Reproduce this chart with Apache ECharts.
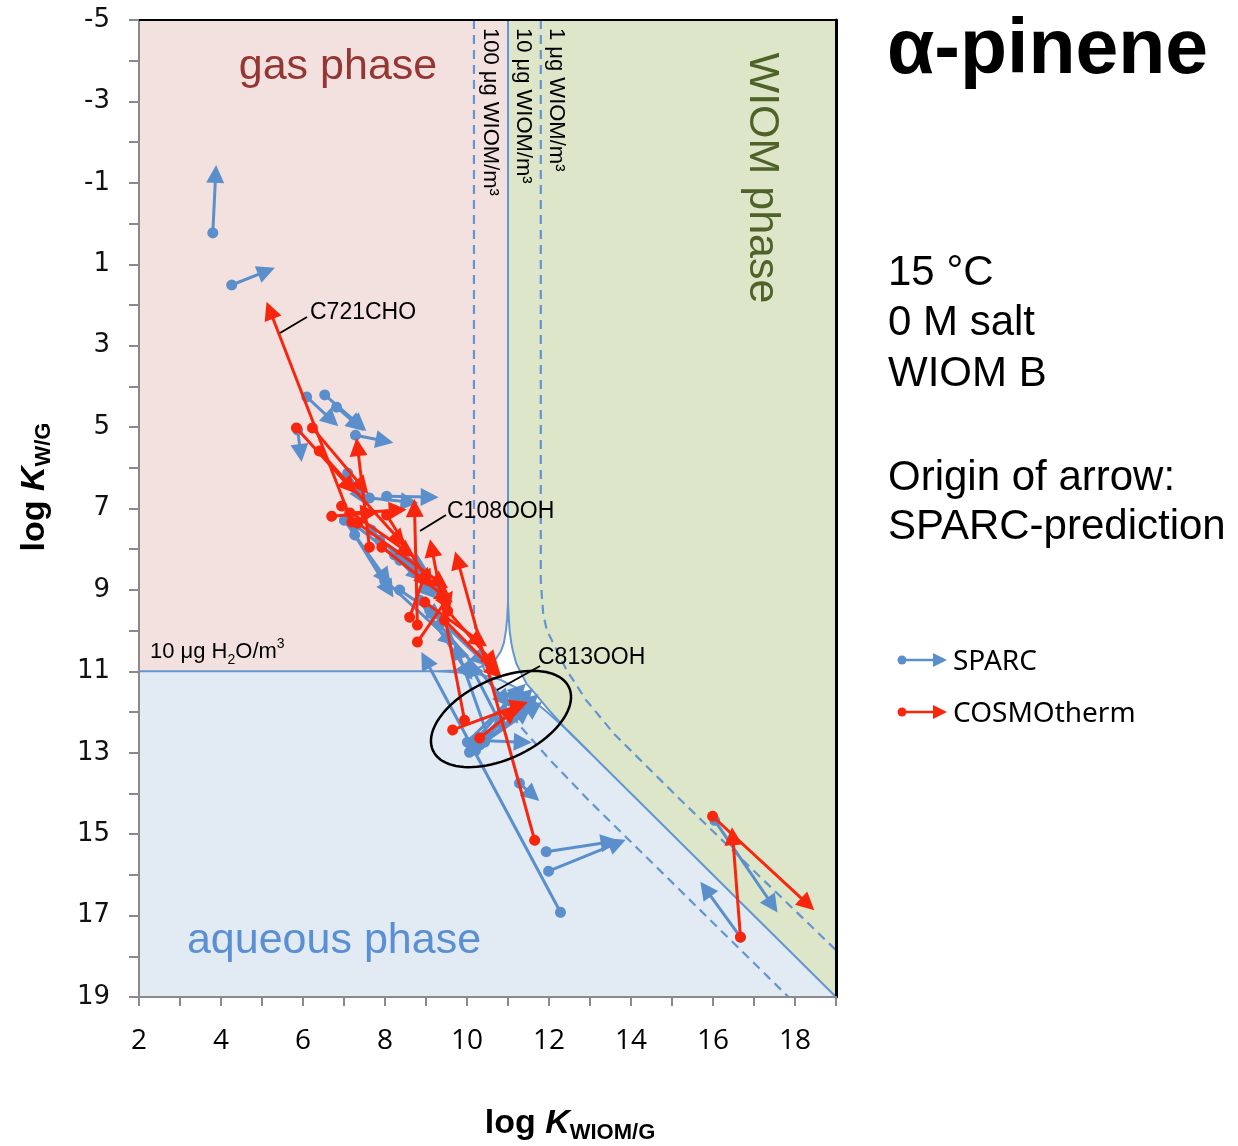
<!DOCTYPE html>
<html>
<head>
<meta charset="utf-8">
<script src="https://cdn.jsdelivr.net/npm/echarts@6/dist/echarts.min.js"></script>
<style>
html, body { margin: 0; padding: 0; background: #fff; }
#chart { width: 1238px; height: 1146px; }
</style>
</head>
<body>
<div id="chart"></div>
<script>
// axis extents (log K_WIOM/G on x, log K_W/G on y, inverted)
const xRange = [2, 19];
const yRange = [-5, 19];
const xTickLabels = [2, 4, 6, 8, 10, 12, 14, 16, 18];
const yTickLabels = [-5, -3, -1, 1, 3, 5, 7, 9, 11, 13, 15, 17, 19];

// phase regions
const gasRegion = [[2, -5], [11, -5], [11, 9.3], [10.98, 9.7], [10.95, 10], [10.9, 10.3], [10.83, 10.5],
  [10.7, 10.7], [10.5, 10.83], [10.3, 10.9], [10, 10.95], [9.7, 10.98], [9.3, 11], [2, 11]];
const wiomRegion = [[11, -5], [19, -5], [19, 19], [13, 13], [12.5, 12.51], [12.04, 12], [11.62, 11.5],
  [11.45, 11.3], [11.3, 11], [11.2, 10.8], [11.12, 10.5], [11.08, 10.3], [11.04, 10], [11.02, 9.7], [11, 9.3]];
const waterRegion = [[2, 11], [9.3, 11], [10, 11.04], [10.3, 11.08], [10.5, 11.12], [10.8, 11.2], [11, 11.3],
  [11.3, 11.45], [11.5, 11.62], [12, 12.04], [12.51, 12.5], [13, 13], [19, 19], [2, 19]];

// 50 % boundaries for 10 ug WIOM/m3 (solid)
const gasLine = [[2, 11], [9.3, 11], [9.7, 10.98], [10, 10.95], [10.3, 10.9], [10.5, 10.83], [10.7, 10.7],
  [10.83, 10.5], [10.9, 10.3], [10.95, 10], [10.98, 9.7], [11, 9.3], [11, -5]];
const wiomLine = [[11, 9.3], [11.02, 9.7], [11.04, 10], [11.08, 10.3], [11.12, 10.5], [11.2, 10.8], [11.3, 11],
  [11.45, 11.3], [11.62, 11.5], [12.04, 12], [12.5, 12.51], [13, 13], [19, 19]];
const waterLine = [[9.3, 11], [10, 11.04], [10.3, 11.08], [10.5, 11.12], [10.8, 11.2], [11, 11.3],
  [11.3, 11.45], [11.5, 11.62], [12, 12.04], [12.51, 12.5], [13, 13]];
// 100 ug and 1 ug WIOM/m3 (dashed)
const wiom100Line = [[10.17, -5], [10.17, 9.6], [10.22, 10.2], [10.32, 10.7], [10.5, 11.15], [10.8, 11.7],
  [11.3, 12.35], [12, 13.15], [13, 14.2], [17.84, 19]];
const wiom1Line = [[11.8, -5], [11.8, 8.8], [11.86, 9.6], [11.95, 10], [12.15, 10.4], [12.42, 10.95],
  [12.9, 11.7], [13.6, 12.55], [15.2, 14.15], [19, 17.85]];

// arrows: [x0, y0, x1, y1] origin (dot) -> head
const sparcArrows = [
  [3.80, 0.23, 3.87, -1.22],
  [4.26, 1.51, 5.11, 1.17],
  [6.09, 4.26, 6.70, 4.83],
  [6.53, 4.21, 7.38, 4.95],
  [6.82, 4.51, 7.32, 4.95],
  [7.28, 5.20, 7.99, 5.34],
  [5.87, 5.07, 5.94, 5.64],
  [7.09, 6.13, 7.43, 6.72],
  [7.62, 6.74, 8.60, 6.84],
  [8.04, 6.70, 9.09, 6.72],
  [8.36, 8.27, 7.21, 7.36],
  [7.01, 7.29, 8.01, 8.71],
  [7.26, 7.65, 8.09, 9.00],
  [7.87, 7.78, 8.84, 8.39],
  [7.67, 7.53, 8.80, 8.64],
  [8.23, 8.14, 9.09, 9.05],
  [8.48, 8.27, 9.33, 9.05],
  [10.50, 12.57, 9.77, 10.48],
  [10.80, 12.25, 10.11, 10.90],
  [9.09, 9.50, 10.36, 10.72],
  [8.84, 9.25, 10.01, 11.02],
  [9.33, 9.86, 10.92, 11.71],
  [7.99, 8.76, 9.58, 10.23],
  [8.36, 9.00, 9.26, 9.62],
  [12.28, 16.92, 8.99, 10.72],
  [11.93, 15.43, 13.48, 15.19],
  [11.99, 15.91, 13.67, 15.22],
  [11.28, 13.75, 11.60, 14.04],
  [10.01, 12.74, 11.28, 11.46],
  [10.11, 12.86, 11.45, 11.58],
  [10.21, 12.94, 11.58, 11.71],
  [10.31, 12.81, 11.28, 11.78],
  [10.06, 12.99, 11.65, 11.88],
  [10.43, 12.74, 11.40, 12.00],
  [10.19, 12.69, 11.36, 12.74],
  [10.26, 12.64, 11.21, 11.53],
  [16.04, 14.66, 17.45, 16.74],
  [16.67, 17.53, 15.82, 16.35]
];
const cosmoArrows = [
  [7.19, 7.33, 5.19, 2.13],
  [5.84, 5.02, 7.14, 6.47],
  [6.23, 5.02, 7.45, 6.47],
  [6.40, 5.59, 8.36, 7.78],
  [6.70, 7.19, 7.62, 7.11],
  [6.94, 6.94, 8.55, 8.07],
  [7.62, 7.95, 7.33, 5.49],
  [7.92, 7.95, 9.48, 9.18],
  [8.04, 7.16, 9.04, 8.76],
  [7.14, 7.11, 8.31, 7.04],
  [8.79, 10.28, 9.53, 9.20],
  [8.60, 9.67, 8.97, 8.64],
  [8.79, 9.86, 8.72, 6.99],
  [9.53, 9.52, 10.62, 10.77],
  [8.97, 9.30, 10.31, 10.26],
  [9.45, 9.74, 10.70, 11.02],
  [9.94, 12.20, 9.14, 7.97],
  [11.65, 15.15, 9.77, 8.27],
  [9.65, 12.44, 11.28, 11.83],
  [10.31, 12.64, 11.09, 12.00],
  [7.33, 7.36, 9.36, 8.83],
  [15.99, 14.56, 18.31, 16.72],
  [16.67, 17.53, 16.48, 15.05]
];

const blue = '#5B8FCB';
const red = '#F9260E';
const lineBlue = '#6396D0';
const font = 'Liberation Sans, Arial, sans-serif';

function regionSeries(pts, color) {
  return {
    type: 'custom',
    coordinateSystem: 'cartesian2d',
    silent: true,
    z: 1,
    data: [pts[0]],
    renderItem: (params, api) => ({
      type: 'polygon',
      shape: { points: pts.map(p => api.coord(p)) },
      style: { fill: color }
    })
  };
}

function boundary(pts, dashed) {
  return {
    type: 'line',
    data: pts,
    showSymbol: false,
    silent: true,
    z: 2,
    lineStyle: { color: lineBlue, width: dashed ? 2.2 : 2, type: dashed ? [9, 6] : 'solid' }
  };
}

function arrowSeries(name, arr, color, z) {
  return {
    name: name,
    type: 'lines',
    coordinateSystem: 'cartesian2d',
    z: z,
    symbol: ['circle', 'triangle'],
    symbolSize: [11, 18],
    itemStyle: { color: color },
    lineStyle: { color: color, width: 3, opacity: 1, curveness: 0 },
    data: arr.map(a => ({ coords: [[a[0], a[1]], [a[2], a[3]]] }))
  };
}

// ellipse round the C813OOH group
const ell = [];
const rot = -25 * Math.PI / 180;
for (let i = 0; i < 90; i++) {
  const t = i / 90 * 2 * Math.PI;
  const c = Math.cos(t), s = Math.sin(t);
  ell.push([501 + 75 * c * Math.cos(rot) - 40 * s * Math.sin(rot),
            719 + 75 * c * Math.sin(rot) + 40 * s * Math.cos(rot)]);
}

function txt(x, y, text, opts) {
  const st = Object.assign({
    text: text, fill: '#000', font: '42px ' + font,
    align: 'left', verticalAlign: 'middle', textAlign: 'left', textVerticalAlign: 'middle'
  }, opts && opts.style);
  return { type: 'text', x: x, y: y, z: 100, rotation: (opts && opts.rotation) || 0, style: st };
}

function legendItem(y, color, label) {
  return [
    { type: 'line', z: 100, shape: { x1: 902, y1: y, x2: 936, y2: y }, style: { stroke: color, lineWidth: 2.5 } },
    { type: 'circle', z: 100, shape: { cx: 902, cy: y, r: 4.5 }, style: { fill: color } },
    { type: 'polygon', z: 100, shape: { points: [[933, y - 7], [947, y], [933, y + 7]] }, style: { fill: color } },
    txt(953, y + 2, label, { style: { font: '28px Noto Sans, sans-serif' } })
  ];
}

const chart = echarts.init(document.getElementById('chart'), null, { renderer: 'canvas' });

const option = {
  animation: false,
  backgroundColor: '#fff',
  grid: { left: 139, top: 20, width: 697, height: 977, show: true, backgroundColor: '#fff', borderWidth: 0, outerBoundsMode: 'none' },
  xAxis: [{
    type: 'value', min: xRange[0], max: xRange[1], interval: 1, z: 10,
    axisLine: { onZero: false, lineStyle: { color: '#8a8a8a', width: 2 } },
    axisTick: { show: true, length: 9, lineStyle: { color: '#8a8a8a', width: 2 } },
    splitLine: { show: false },
    axisLabel: {
      interval: 0, margin: 30, color: '#000', fontSize: 28, fontFamily: 'Open Sans, sans-serif',
      formatter: v => xTickLabels.indexOf(v) >= 0 ? String(v) : ''
    }
  }, {
    type: 'value', position: 'top', min: xRange[0], max: xRange[1], z: 10,
    axisLine: { onZero: false, lineStyle: { color: '#000', width: 2 } },
    axisTick: { show: false }, axisLabel: { show: false }, splitLine: { show: false }
  }],
  yAxis: [{
    type: 'value', inverse: true, min: yRange[0], max: yRange[1], interval: 1, z: 10,
    axisLine: { onZero: false, lineStyle: { color: '#8a8a8a', width: 2 } },
    axisTick: { show: true, length: 10, lineStyle: { color: '#8a8a8a', width: 2 } },
    splitLine: { show: false },
    axisLabel: {
      interval: 0, margin: 29, color: '#111', fontSize: 26, fontFamily: 'DejaVu Sans, sans-serif',
      formatter: v => yTickLabels.indexOf(v) >= 0 ? String(v) : ''
    }
  }, {
    type: 'value', position: 'right', inverse: true, min: yRange[0], max: yRange[1], z: 10,
    axisLine: { onZero: false, lineStyle: { color: '#000', width: 3 } },
    axisTick: { show: false }, axisLabel: { show: false }, splitLine: { show: false }
  }],
  series: [
    regionSeries(gasRegion, '#F3E1DF'),
    regionSeries(waterRegion, '#E2EAF4'),
    regionSeries(wiomRegion, '#DDE6C9'),
    boundary(gasLine, false),
    boundary(wiomLine, false),
    boundary(waterLine, false),
    boundary(wiom100Line, true),
    boundary(wiom1Line, true),
    arrowSeries('SPARC', sparcArrows, blue, 5),
    arrowSeries('COSMOtherm', cosmoArrows, red, 6)
  ],
  graphic: {
    elements: [
      txt(338, 67, 'gas phase', { style: { fill: '#963634', font: '43px ' + font, align: 'center', textAlign: 'center' } }),
      txt(334, 941, 'aqueous phase', { style: { fill: '#5A8FD3', font: '43px ' + font, align: 'center', textAlign: 'center' } }),
      txt(762, 178, 'WIOM phase', { rotation: -Math.PI / 2, style: { fill: '#4F6228', font: '43px ' + font, align: 'center', textAlign: 'center' } }),
      txt(490, 28, '100 μg WIOM/m³', { rotation: -Math.PI / 2, style: { font: '22px ' + font } }),
      txt(523, 28, '10 μg WIOM/m³', { rotation: -Math.PI / 2, style: { font: '22px ' + font } }),
      txt(556, 28, '1 μg WIOM/m³', { rotation: -Math.PI / 2, style: { font: '22px ' + font } }),
      {
        type: 'text', x: 150, y: 652, z: 100,
        style: {
          text: '{t|10 μg H}{sub|2}{t|O/m}{sup|3}',
          align: 'left', verticalAlign: 'middle', textAlign: 'left', textVerticalAlign: 'middle',
          rich: {
            t: { fontSize: 22, fontFamily: font, lineHeight: 30, fill: '#000', color: '#000' },
            sub: { fontSize: 14, fontFamily: font, lineHeight: 12, verticalAlign: 'bottom', fill: '#000', color: '#000' },
            sup: { fontSize: 14, fontFamily: font, lineHeight: 12, verticalAlign: 'top', fill: '#000', color: '#000' }
          }
        }
      },
      // compound labels
      { type: 'line', z: 100, shape: { x1: 307, y1: 317, x2: 280, y2: 333 }, style: { stroke: '#000', lineWidth: 2 } },
      txt(310, 313, 'C721CHO', { style: { font: '23px ' + font } }),
      { type: 'line', z: 100, shape: { x1: 446, y1: 515, x2: 420, y2: 531 }, style: { stroke: '#000', lineWidth: 2 } },
      txt(447, 512, 'C108OOH', { style: { font: '23px ' + font } }),
      { type: 'line', z: 100, shape: { x1: 540, y1: 666, x2: 497, y2: 690 }, style: { stroke: '#000', lineWidth: 2 } },
      txt(538, 658, 'C813OOH', { style: { font: '23px ' + font } }),
      { type: 'polygon', z: 100, shape: { points: ell }, style: { fill: 'none', stroke: '#000', lineWidth: 2.5 } },
      // axis titles
      {
        type: 'text', x: 35, y: 487, z: 100, rotation: Math.PI / 2,
        style: {
          text: '{a|log }{k|K}{s|W/G}',
          align: 'center', verticalAlign: 'middle', textAlign: 'center', textVerticalAlign: 'middle',
          rich: {
            a: { fontSize: 34, fontWeight: 'bold', fontFamily: font, lineHeight: 40 },
            k: { fontSize: 34, fontWeight: 'bold', fontStyle: 'italic', fontFamily: font, lineHeight: 40 },
            s: { fontSize: 22, fontWeight: 'bold', fontFamily: font, lineHeight: 22, verticalAlign: 'bottom' }
          }
        }
      },
      {
        type: 'text', x: 570, y: 1124, z: 100,
        style: {
          text: '{a|log }{k|K}{s|WIOM/G}',
          align: 'center', verticalAlign: 'middle', textAlign: 'center', textVerticalAlign: 'middle',
          rich: {
            a: { fontSize: 34, fontWeight: 'bold', fontFamily: font, lineHeight: 40 },
            k: { fontSize: 34, fontWeight: 'bold', fontStyle: 'italic', fontFamily: font, lineHeight: 40 },
            s: { fontSize: 22, fontWeight: 'bold', fontFamily: font, lineHeight: 22, verticalAlign: 'bottom' }
          }
        }
      },
      // right side text
      txt(887, 52, 'α-pinene', { style: { font: 'bold 77px ' + font } }),
      txt(888, 273, '15 °C'),
      txt(888, 323, '0 M salt'),
      txt(888, 374, 'WIOM B'),
      txt(888, 478, 'Origin of arrow:'),
      txt(888, 527, 'SPARC-prediction')
    ].concat(legendItem(660, blue, 'SPARC'), legendItem(712, red, 'COSMOtherm'))
  }
};

chart.setOption(option);
window.addEventListener('resize', chart.resize);
</script>
</body>
</html>
